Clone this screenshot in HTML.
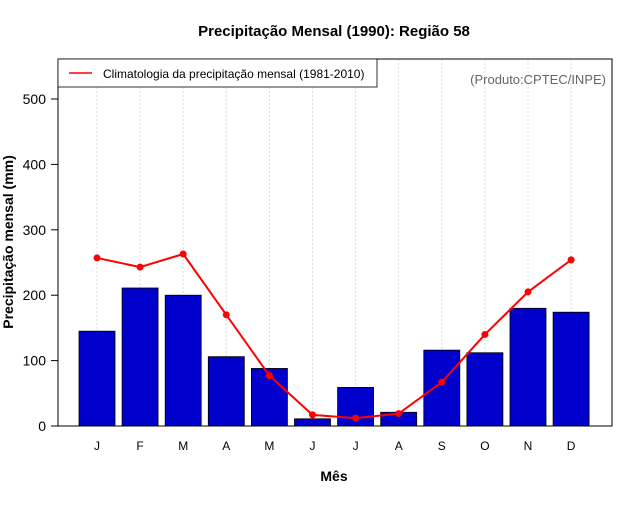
<!DOCTYPE html>
<html><head><meta charset="utf-8"><style>
body{margin:0;background:#fff}
svg text{font-family:"Liberation Sans",sans-serif}
</style></head><body>
<svg id="c" width="640" height="500">
<rect width="640" height="500" fill="#fff"/>
<text x="334" y="36" text-anchor="middle" font-size="15" font-weight="bold">Precipitação Mensal (1990): Região 58</text>
<g id="grid"></g><g id="bars"></g><g id="line"></g>
<rect x="58" y="59" width="554" height="367" fill="none" stroke="#000" stroke-width="1"/>
<g id="yaxis"></g><g id="xaxis"></g>
<text x="13" y="242" transform="rotate(-90 13 242)" text-anchor="middle" font-size="14" font-weight="bold">Precipitação mensal (mm)</text>
<text x="334" y="481" text-anchor="middle" font-size="14" font-weight="bold">Mês</text>
<g>
<rect x="58" y="59" width="319" height="28" fill="#fff" stroke="#000" stroke-width="0.8"/>
<line x1="69" y1="73" x2="92" y2="73" stroke="#f00" stroke-width="1.5"/>
<text x="103" y="78" font-size="12">Climatologia da precipitação mensal (1981-2010)</text>
</g>
<text x="606" y="84" text-anchor="end" font-size="13" fill="#666">(Produto:CPTEC/INPE)</text>
</svg>
<script>
const months=["J","F","M","A","M","J","J","A","S","O","N","D"];
const observed=[145,211,200,106,88,11,59,21,116,112,180,174];
const climatology=[257,243,263,170,77,17,12,19,67,140,205,254];
const yTicks=[0,100,200,300,400,500];
const NS="http://www.w3.org/2000/svg";
const xs=i=>97+i*43.1;
const ys=v=>426-v*0.654;
function mk(tag,attrs,parent){const e=document.createElementNS(NS,tag);for(const k in attrs)e.setAttribute(k,attrs[k]);document.getElementById(parent).appendChild(e);return e;}
months.forEach((m,i)=>{
 const g=mk('line',{x1:xs(i),x2:xs(i),y1:59,y2:426,stroke:'#ddd','stroke-dasharray':'2,2'},'grid');
 
 
 const b=mk('rect',{x:xs(i)-18,y:ys(observed[i]),width:36,height:ys(0)-ys(observed[i]),fill:'#0000cd',stroke:'#000','stroke-width':0.8},'bars');
 
 
 const t=mk('text',{x:xs(i),y:450,'text-anchor':'middle','font-size':12},'xaxis');
 t.textContent=m;
 
 
});
const pl=mk('polyline',{points:climatology.map((v,i)=>xs(i)+','+ys(v)).join(' '),fill:'none',stroke:'#f00','stroke-width':2},'line');


climatology.forEach((v,i)=>{
 const p=mk('circle',{cx:xs(i),cy:ys(v),r:3.5,fill:'#f00'},'line');
 
 
});
yTicks.forEach(v=>{
 const l=mk('line',{x1:51,x2:58,y1:ys(v),y2:ys(v),stroke:'#000'},'yaxis');
 
 
 const t=mk('text',{x:46,y:ys(v)+5,'text-anchor':'end','font-size':14},'yaxis');
 t.textContent=v;
 
 
});
</script>
</body></html>
